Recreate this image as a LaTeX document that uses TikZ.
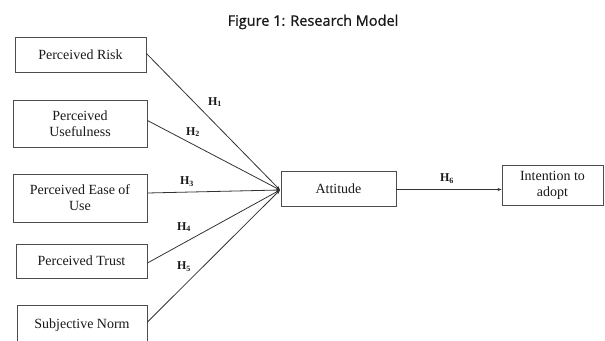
\documentclass[tikz,border=0pt]{standalone}
\usepackage{fontspec}
\setmainfont{Liberation Serif}
\newfontfamily\titlefont[FakeBold=0.8]{Open Sans}
\usetikzlibrary{arrows.meta}
\begin{document}
\begin{tikzpicture}[x=1pt,y=-1pt,
  box/.style={draw=black!70,line width=0.9pt,inner sep=0pt,align=center,
    font=\fontsize{14}{16}\selectfont,text=black!90},
  hyp/.style={font=\fontsize{12}{14}\selectfont\bfseries,text=black!90,inner sep=0pt},
  link/.style={draw=black!80,line width=0.8pt,-{Stealth[length=4pt,width=3pt]}}]
\useasboundingbox (0,0) rectangle (605,340);
% title
\node[font=\titlefont\fontsize{14.5}{17}\selectfont,text=black!90] (title) at (313,22) {Figure 1: Research Model};
% antecedents
\node[box,minimum width=131,minimum height=35] (risk) at (80.5,54.5) {Perceived Risk};
\node[box,minimum width=134,minimum height=47] (useful) at (80,123.5) {Perceived\\Usefulness};
\node[box,minimum width=134,minimum height=48] (ease) at (80,198) {Perceived Ease of\\Use};
\node[box,minimum width=131,minimum height=34] (trust) at (81.5,261) {Perceived Trust};
\node[box,minimum width=130,minimum height=40] (norm) at (82,325) {Subjective Norm};
% mediator and outcome
\node[box,minimum width=115,minimum height=35] (att) at (338.5,188.5) {Attitude};
\node[box,minimum width=101,minimum height=40] (intent) at (552.5,185) {Intention to\\adopt};
% convergence point at the left side of the attitude box
\coordinate (hub) at (280,190);
\draw[link] (risk.east) ++(0,-1) -- (hub);
\draw[link] (useful.east) ++(0,-3) -- (hub);
\draw[link] (ease.east) ++(0,-5) -- (hub);
\draw[link] (trust.east) ++(0,2) -- (hub);
\draw[link] (norm.east) ++(0,-3) -- (hub);
\draw[link] (att.east) ++(0,1) -- (intent.west |- 0,189.5);
% hypothesis labels
\node[hyp] (h1) at (215,102) {H\textsubscript{1}};
\node[hyp] (h2) at (193,132) {H\textsubscript{2}};
\node[hyp] (h3) at (187,182) {H\textsubscript{3}};
\node[hyp] (h4) at (184,227) {H\textsubscript{4}};
\node[hyp] (h5) at (184,267) {H\textsubscript{5}};
\node[hyp] (h6) at (447,179) {H\textsubscript{6}};
\end{tikzpicture}
\end{document}
